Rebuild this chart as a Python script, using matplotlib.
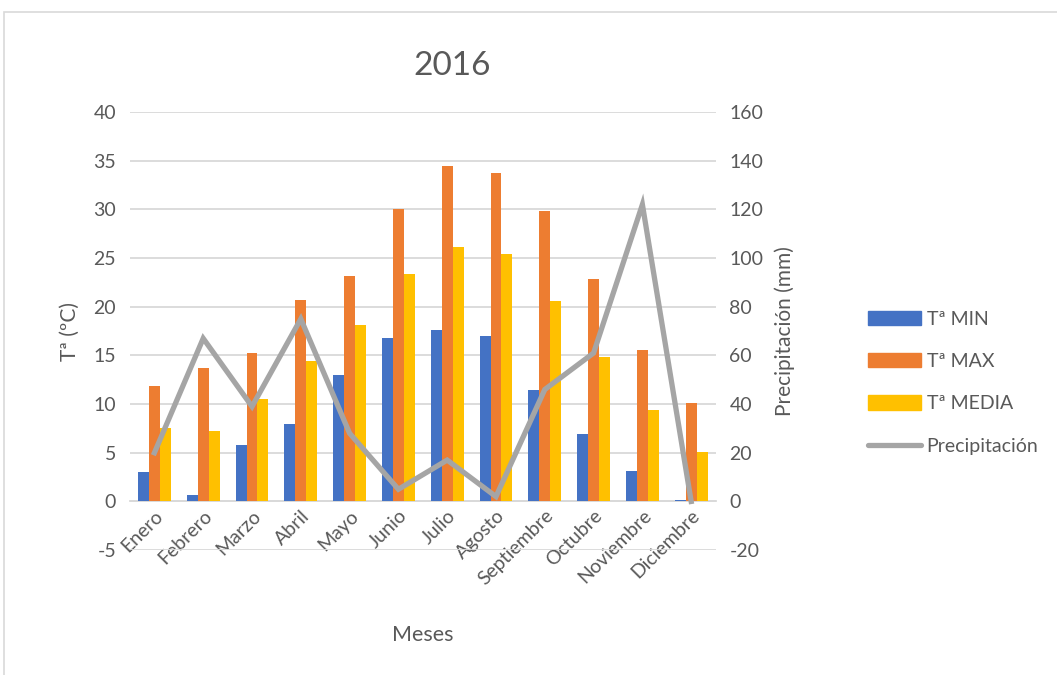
import numpy as np
import matplotlib
matplotlib.use("Agg")
import matplotlib.pyplot as plt
from matplotlib.patches import Rectangle
from matplotlib.lines import Line2D

plt.rcParams['font.family'] = ['Lato', 'DejaVu Sans']
plt.rcParams['axes.unicode_minus'] = False

# data
meses = ["Enero", "Febrero", "Marzo", "Abril", "Mayo", "Junio", "Julio",
         "Agosto", "Septiembre", "Octubre", "Noviembre", "Diciembre"]
t_min = [3.0, 0.7, 5.8, 8.0, 13.0, 16.8, 17.6, 17.0, 11.4, 6.9, 3.1, 0.1]
t_max = [11.9, 13.7, 15.3, 20.7, 23.2, 30.0, 34.5, 33.7, 29.8, 22.8, 15.6, 10.1]
t_media = [7.5, 7.2, 10.5, 14.4, 18.1, 23.4, 26.1, 25.4, 20.6, 14.8, 9.4, 5.1]
precip = [20, 67, 39, 75, 28, 5, 17, 2, 46, 61, 122, 0]

# colours
BLUE = "#4472C4"
ORANGE = "#ED7D31"
YELLOW = "#FFC000"
GREY = "#A5A5A5"
TEXT = "#595959"
GRID = "#D9D9D9"

fig = plt.figure(figsize=(10.57, 6.75), dpi=100)
ax = fig.add_axes([0.123, 0.185, 0.554, 0.649])
ax2 = ax.twinx()

# outer chart border
fig.patches.append(Rectangle((4/1057, -0.01), 1.1, 1 - 12/675 + 0.01,
                             transform=fig.transFigure, fill=False,
                             edgecolor=GRID, linewidth=1.2))

x = np.arange(len(meses))
w = 0.225

ax.bar(x - w, t_min, w, color=BLUE, zorder=3)
ax.bar(x, t_max, w, color=ORANGE, zorder=3)
ax.bar(x + w, t_media, w, color=YELLOW, zorder=3)

ax2.plot(x, precip, color=GREY, linewidth=3.8, solid_joinstyle='miter', zorder=4)

ax.set_xlim(-0.5, len(meses) - 0.5)
ax.set_ylim(-5, 40)
ax.set_yticks(np.arange(-5, 41, 5))
ax2.set_ylim(-20, 160)
ax2.set_yticks(np.arange(-20, 161, 20))

ax.yaxis.grid(True, color=GRID, linewidth=1.3, zorder=0)
ax.set_axisbelow(True)

for a in (ax, ax2):
    for s in ('top', 'left', 'right', 'bottom'):
        a.spines[s].set_visible(False)
    a.tick_params(length=0, labelsize=14, labelcolor=TEXT)

ax.spines['bottom'].set_visible(True)
ax.spines['bottom'].set_position(('data', 0))
ax.spines['bottom'].set_color(GRID)
ax.spines['bottom'].set_linewidth(1.3)

ax.set_xticks(x)
ax.set_xticklabels(meses, rotation=45, ha='right', rotation_mode='anchor')
ax.tick_params(axis='x', pad=4)
ax.tick_params(axis='y', pad=10)
ax2.tick_params(axis='y', pad=10)

ax.set_ylabel("Tª (ºC)", fontsize=15, color=TEXT, labelpad=10)
ax2.set_ylabel("Precipitación (mm)", fontsize=15, color=TEXT, labelpad=8)
fig.text(423/1057, 1 - 635/675, "Meses", fontsize=15.5, color=TEXT,
         ha='center', va='center')
fig.text(452/1057, 1 - 66/675, "2016", fontsize=24, color=TEXT,
         ha='center', va='center')

handles = [
    Rectangle((0, 0), 1, 1, color=BLUE),
    Rectangle((0, 0), 1, 1, color=ORANGE),
    Rectangle((0, 0), 1, 1, color=YELLOW),
    Line2D([0], [0], color=GREY, linewidth=3.8, solid_capstyle='round'),
]
labels = ["Tª MIN", "Tª MAX", "Tª MEDIA", "Precipitación"]
leg = fig.legend(handles, labels, loc='center left',
                 bbox_to_anchor=(0.805, 0.433), frameon=False,
                 fontsize=14, handlelength=2.7, handleheight=0.75,
                 labelspacing=1.3, handletextpad=0.3)
for t in leg.get_texts():
    t.set_color(TEXT)

fig.savefig("out.png", dpi=100)
